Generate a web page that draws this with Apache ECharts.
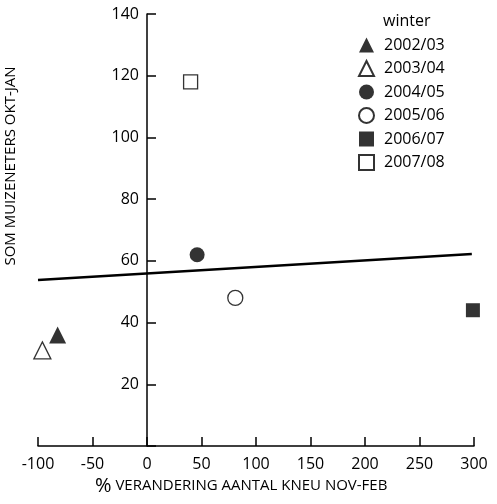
<!DOCTYPE html>
<html>
<head>
<meta charset="utf-8">
<script src="https://cdn.jsdelivr.net/npm/echarts@6/dist/echarts.min.js"></script>
<style>html,body{margin:0;padding:0;background:#fff}#c{width:497px;height:504px}</style>
</head>
<body>
<div id="c"></div>
<script>
const winters = ['2002/03','2003/04','2004/05','2005/06','2006/07','2007/08'];
const xValues = [-82, -96, 46, 81, 299, 40];
const yValues = [36, 31, 62, 48, 44, 118];
const symbols = ['triangle','triangle','circle','circle','rect','rect'];
const filled = [true, false, true, false, true, false];
const symbolSizes = [17, 17, 15, 15, 14, 14];
const trendX = [-100, 298];
const trendY = [53.8, 62.2];
const xTicks = [-100, -50, 0, 50, 100, 150, 200, 250, 300];
const yTicks = [20, 40, 60, 80, 100, 120, 140];

const FONT = '"Open Sans", "DejaVu Sans", sans-serif';
const chart = echarts.init(document.getElementById('c'));

const series = winters.map((w, i) => ({
  name: w,
  type: 'scatter',
  symbol: symbols[i],
  symbolSize: symbolSizes[i],
  data: [[xValues[i], yValues[i]]],
  itemStyle: filled[i]
    ? { color: '#000', borderColor: '#000', borderWidth: 0 }
    : { color: '#fff', borderColor: '#000', borderWidth: 1.3 },
  z: 3
}));
series.push({
  name: 'trend',
  type: 'line',
  data: trendX.map((x, i) => [x, trendY[i]]),
  symbol: 'none',
  lineStyle: { color: '#000', width: 2.5 },
  silent: true,
  z: 2
});

const GRID_L = 38, GRID_R = 23;
const plotW = 497 - GRID_L - GRID_R;
const yAxisOffset = -plotW * (0 - (-100)) / (300 - (-100));

chart.setOption({
  animation: false,
  backgroundColor: '#fff',
  grid: { left: GRID_L, right: GRID_R, top: 14, bottom: 58 },
  title: {
    text: 'winter', left: 378, top: 8,
    textStyle: { fontFamily: FONT, fontSize: 16, fontWeight: 'normal', color: '#000' }
  },
  legend: {
    data: winters,
    orient: 'vertical',
    left: 353, top: 32,
    itemWidth: 15, itemHeight: 15, itemGap: 7,
    textStyle: { fontFamily: FONT, fontSize: 16, color: '#000', padding: [0, 0, 0, 5] }
  },
  xAxis: {
    type: 'value', min: -100, max: 300, interval: 50,
    axisLine: { onZero: false, lineStyle: { color: '#000', width: 1.5 } },
    axisTick: { inside: true, length: 9, lineStyle: { color: '#000', width: 1.5 } },
    axisLabel: { color: '#000', fontFamily: FONT, fontSize: 16, margin: 10,
      formatter: v => xTicks.includes(v) ? String(v) : '' },
    splitLine: { show: false }
  },
  yAxis: {
    type: 'value', min: 0, max: 140, interval: 20,
    position: 'left', offset: yAxisOffset,
    axisLine: { onZero: false, lineStyle: { color: '#000', width: 1.5 } },
    axisTick: { inside: true, length: 9, lineStyle: { color: '#000', width: 1.5 } },
    axisLabel: { color: '#000', fontFamily: FONT, fontSize: 16, margin: 8,
      formatter: v => yTicks.includes(v) ? String(v) : '' },
    splitLine: { show: false }
  },
  graphic: [
    {
      type: 'text', left: 95, top: 476,
      style: {
        text: '{p|%}{t| VERANDERING AANTAL KNEU NOV-FEB}',
        rich: {
          p: { fontFamily: FONT, fontSize: 20, fill: '#000' },
          t: { fontFamily: FONT, fontSize: 15, fill: '#000' }
        }
      }
    },
    {
      type: 'text', x: 3, y: 166, rotation: Math.PI / 2,
      style: {
        text: 'SOM MUIZENETERS OKT-JAN',
        fontFamily: FONT, fontSize: 15, fill: '#000',
        align: 'center', verticalAlign: 'top'
      }
    }
  ],
  series: series
});
</script>
</body>
</html>
